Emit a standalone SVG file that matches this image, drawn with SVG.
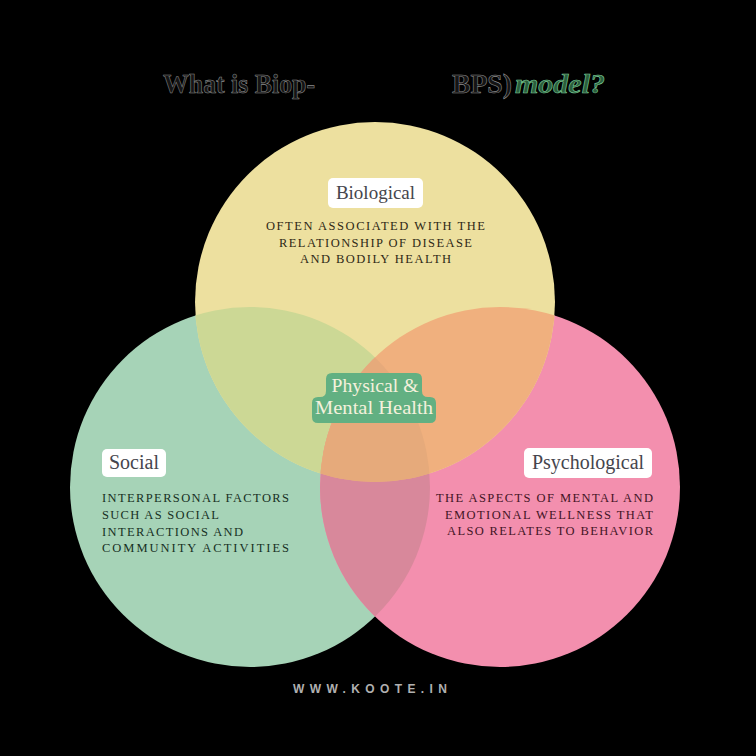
<svg xmlns="http://www.w3.org/2000/svg" width="756" height="756" viewBox="0 0 756 756">
<defs>
<style>
.lbl{font-family:"Liberation Serif","DejaVu Serif",serif;font-size:19px;fill:#45454d;text-anchor:middle}
.box{fill:#ffffff}
.body{font-family:"Liberation Serif","DejaVu Serif",serif;font-size:12.5px}
.title{font-family:"Liberation Serif","DejaVu Serif",serif;font-size:28px;font-weight:bold;fill:#141414;stroke:#8a8a8a;stroke-width:0.6}
</style>
<clipPath id="cY"><circle cx="375" cy="302" r="180"/></clipPath>
<clipPath id="cG"><circle cx="250" cy="487" r="180"/></clipPath>
</defs>
<rect width="756" height="756" fill="#000"/>
<g id="title">
<text class="title" x="163" y="93" textLength="152" lengthAdjust="spacingAndGlyphs">What is Biop-</text>
<text class="title" x="452" y="93" textLength="60" lengthAdjust="spacingAndGlyphs">BPS)</text>
<text class="title" x="515" y="93" textLength="90" lengthAdjust="spacingAndGlyphs" style="font-style:italic;fill:#2a5e3d;stroke:#7fcf9a">model?</text>
</g>
<g id="circles">
<circle id="social-circle" cx="250" cy="487" r="180" fill="#a6d3b7"/>
<circle id="psych-circle" cx="500" cy="487" r="180" fill="#f38fae"/>
<circle id="bio-circle" cx="375" cy="302" r="180" fill="#ede09f"/>
<circle cx="250" cy="487" r="180" fill="#ccd895" clip-path="url(#cY)"/>
<circle cx="500" cy="487" r="180" fill="#d8889b" clip-path="url(#cG)"/>
<circle cx="500" cy="487" r="180" fill="#f0b07e" clip-path="url(#cY)"/>
<g clip-path="url(#cY)"><circle cx="500" cy="487" r="180" fill="#e6aa7b" clip-path="url(#cG)"/></g>
</g>
<g id="biological">
<rect class="box" x="328" y="178" width="95" height="30" rx="5"/>
<text class="lbl" x="375.5" y="199">Biological</text>
<g class="body" fill="#2e2816" text-anchor="middle">
<text x="375.5" y="230" textLength="219" lengthAdjust="spacing">OFTEN ASSOCIATED WITH THE</text>
<text x="375.5" y="247" textLength="193" lengthAdjust="spacing">RELATIONSHIP OF DISEASE</text>
<text x="375.5" y="263" textLength="151" lengthAdjust="spacing">AND BODILY HEALTH</text>
</g>
</g>
<g id="social">
<rect class="box" x="102" y="449" width="64" height="28" rx="5"/>
<text class="lbl" x="134" y="469" style="font-size:20px">Social</text>
<g class="body" fill="#17301f">
<text x="102" y="502" textLength="187" lengthAdjust="spacing">INTERPERSONAL FACTORS</text>
<text x="102" y="519" textLength="117" lengthAdjust="spacing">SUCH AS SOCIAL</text>
<text x="102" y="536" textLength="141" lengthAdjust="spacing">INTERACTIONS AND</text>
<text x="102" y="552" textLength="187" lengthAdjust="spacing">COMMUNITY ACTIVITIES</text>
</g>
</g>
<g id="psychological">
<rect class="box" x="524" y="448" width="128" height="30" rx="5"/>
<text class="lbl" x="588" y="469" style="font-size:20px">Psychological</text>
<g class="body" fill="#421425" text-anchor="end">
<text x="653" y="502" textLength="217" lengthAdjust="spacing">THE ASPECTS OF MENTAL AND</text>
<text x="653" y="519" textLength="208" lengthAdjust="spacing">EMOTIONAL WELLNESS THAT</text>
<text x="653" y="535" textLength="206" lengthAdjust="spacing">ALSO RELATES TO BEHAVIOR</text>
</g>
</g>
<g id="center">
<path d="M332,373 H416 Q422,373 422,379 V391 Q422,397 428,397 H430 Q436,397 436,403 V417 Q436,423 430,423 H318 Q312,423 312,417 V403 Q312,397 318,397 H320 Q326,397 326,391 V379 Q326,373 332,373 Z" fill="#62b082"/>
<g font-family="Liberation Serif, DejaVu Serif, serif" font-size="19" fill="#f4f1dc" text-anchor="middle">
<text x="375" y="392" textLength="87" lengthAdjust="spacingAndGlyphs">Physical &amp;</text>
<text x="374" y="414" textLength="118" lengthAdjust="spacingAndGlyphs">Mental Health</text>
</g>
</g>
<g id="footer">
<text x="293" y="693" textLength="154" lengthAdjust="spacing" font-family="Liberation Sans, Arial, sans-serif" font-size="12" font-weight="bold" fill="#b0b0b0">WWW.KOOTE.IN</text>
</g>
</svg>
